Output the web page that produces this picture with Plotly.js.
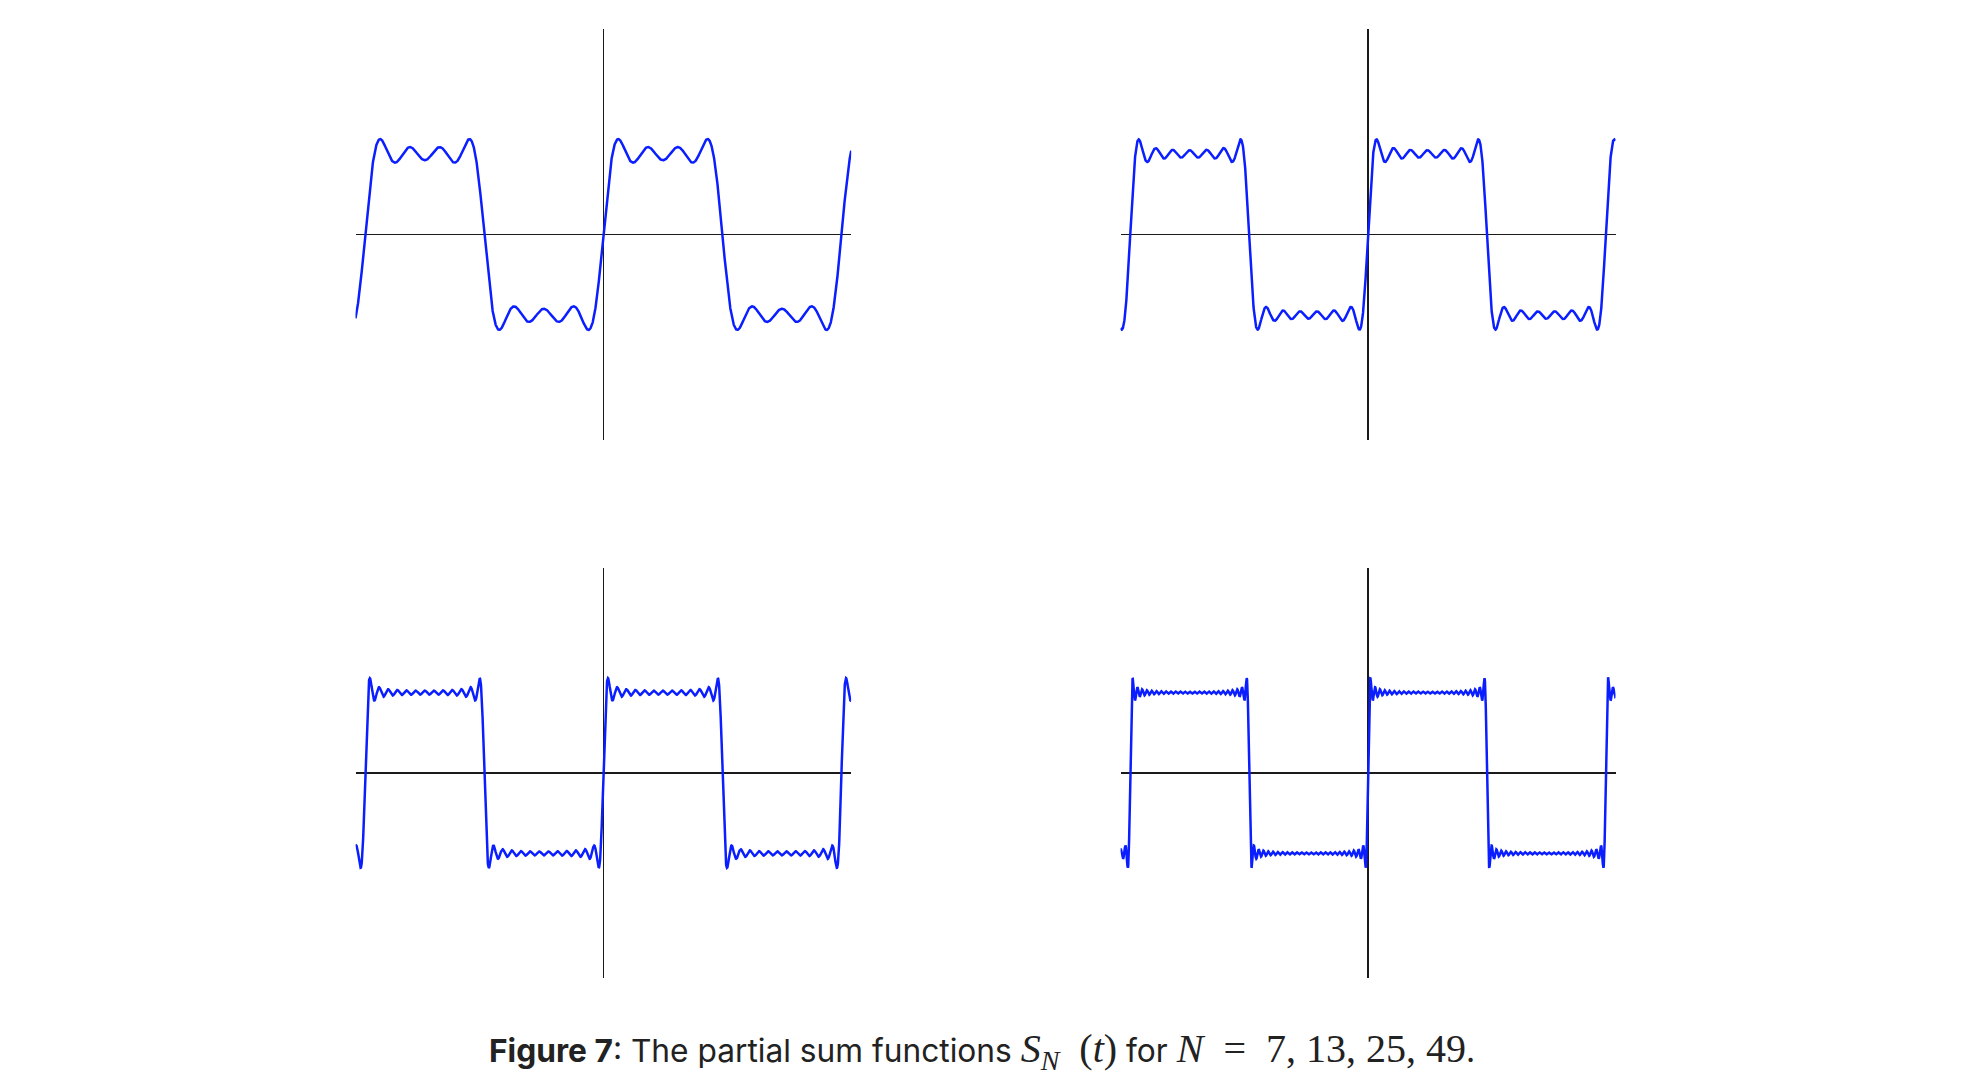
<!DOCTYPE html>
<html>
<head>
<meta charset="utf-8">
<script src="https://cdn.plot.ly/plotly-3.0.1.min.js"></script>
<style>
  html, body { margin: 0; padding: 0; background: #ffffff; }
  #chart { width: 1976px; height: 1090px; }
</style>
</head>
<body>
<div id="chart"></div>
<script>
// Partial sums S_N(t) of the Fourier series of the unit square wave
const nValues = [7, 13, 25, 49];           // number of harmonics in each panel
const tLimits = [-6.54, 6.54];             // t span shown in each panel
const yLimits = [-2.55, 2.55];             // S_N span shown in each panel
const sampleCount = 3000;                  // samples along t

function partialSum(N, t) {
  let s = 0;
  for (let n = 1; n <= N; n += 2) s += Math.sin(n * t) / n;
  return 4 / Math.PI * s;
}

const traces = nValues.map((N, i) => {
  const xs = [], ys = [];
  for (let k = 0; k <= sampleCount; k++) {
    const t = tLimits[0] + (tLimits[1] - tLimits[0]) * k / sampleCount;
    xs.push(t);
    ys.push(partialSum(N, t));
  }
  return {
    x: xs, y: ys, type: 'scatter', mode: 'lines',
    xaxis: 'x' + (i === 0 ? '' : i + 1),
    yaxis: 'y' + (i === 0 ? '' : i + 1),
    line: { color: '#0a1eff', width: 2.5 },
    hoverinfo: 'skip', showlegend: false
  };
});

const W = 1976, H = 1090;
const xDomL = [355.5 / W, 851.2 / W], xDomR = [1120.5 / W, 1615.5 / W];
const yDomT = [1 - 440 / H, 1 - 29 / H], yDomB = [1 - 978 / H, 1 - 568 / H];
const doms = [[xDomL, yDomT], [xDomR, yDomT], [xDomL, yDomB], [xDomR, yDomB]];

function axis(domain, range, anchor) {
  return {
    domain: domain, range: range, anchor: anchor,
    showgrid: false, showticklabels: false, ticks: '', showline: false,
    zeroline: true, zerolinecolor: '#1a1a1a', zerolinewidth: 1.1,
    fixedrange: true
  };
}

const serif = "font-family:'Liberation Serif', serif; font-size:40px";
const captionText =
  '<b>Figure 7</b>: The partial sum functions ' +
  '<span style="' + serif + '"><i>S</i><sub><i>N</i></sub>&nbsp; (<i>t</i>)</span>' +
  ' for ' +
  '<span style="' + serif + '"><i>N</i>&nbsp; =&nbsp; 7, 13, 25, 49</span>.';

const layout = {
  width: W, height: H,
  margin: { l: 0, r: 0, t: 0, b: 0 },
  paper_bgcolor: '#ffffff', plot_bgcolor: '#ffffff',
  showlegend: false,
  annotations: [{
    xref: 'paper', yref: 'paper', x: 982 / W, y: 1 - 1051 / H,
    xanchor: 'center', yanchor: 'middle', showarrow: false,
    font: { family: 'Inter, sans-serif', size: 31.7, color: '#222222' },
    text: captionText
  }]
};

doms.forEach((d, i) => {
  const s = i === 0 ? '' : String(i + 1);
  layout['xaxis' + s] = axis(d[0], tLimits, 'y' + s);
  layout['yaxis' + s] = axis(d[1], yLimits, 'x' + s);
});

Plotly.newPlot('chart', traces, layout, { displayModeBar: false, staticPlot: true });
</script>
</body>
</html>
